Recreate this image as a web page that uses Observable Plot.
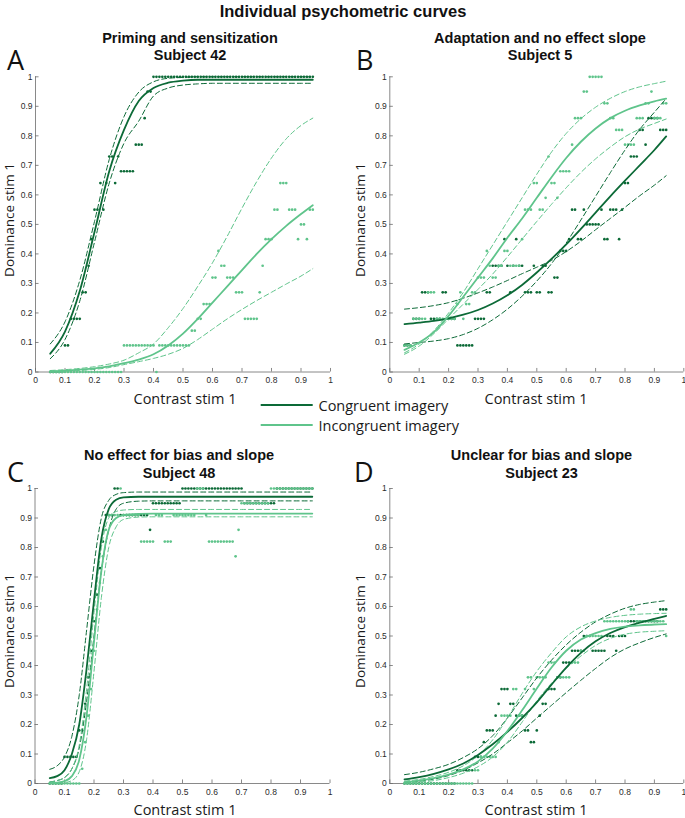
<!DOCTYPE html>
<html><head><meta charset="utf-8">
<script src="https://cdn.jsdelivr.net/npm/d3@7"></script>
<script src="https://cdn.jsdelivr.net/npm/@observablehq/plot@0.6"></script>
<style>
body{margin:0;background:#fff;}
#wrap{position:relative;width:685px;height:818px;overflow:hidden;background:#fff;}
</style></head><body><div id="wrap"></div>
<script>
// ---------- data ----------
const contrast = [0.05,0.06,0.07,0.08,0.09,0.10,0.11,0.12,0.13,0.14,
 0.15,0.16,0.17,0.18,0.19,0.20,0.21,0.22,0.23,0.24,
 0.25,0.26,0.27,0.28,0.29,0.30,0.31,0.32,0.33,0.34,
 0.35,0.36,0.37,0.38,0.39,0.40,0.41,0.42,0.43,0.44,
 0.45,0.46,0.47,0.48,0.49,0.50,0.51,0.52,0.53,0.54,
 0.55,0.56,0.57,0.58,0.59,0.60,0.61,0.62,0.63,0.64,
 0.65,0.66,0.67,0.68,0.69,0.70,0.71,0.72,0.73,0.74,
 0.75,0.76,0.77,0.78,0.79,0.80,0.81,0.82,0.83,0.84,
 0.85,0.86,0.87,0.88,0.89,0.90,0.91,0.92,0.93,0.94];
const fitX  = [0.05,0.1,0.15,0.2,0.25,0.3,0.35,0.4,0.45,0.5,0.55,0.6,0.65,0.7,0.75,0.8,0.85,0.9,0.94];
const fitXC = [0.05,0.075,0.1,0.125,0.15,0.175,0.2,0.225,0.25,0.275,0.3,0.35,0.4,0.5,0.6,0.7,0.8,0.9,0.94];
const xTicks = [0,0.1,0.2,0.3,0.4,0.5,0.6,0.7,0.8,0.9,1];
const yTicks = [0,0.1,0.2,0.3,0.4,0.5,0.6,0.7,0.8,0.9,1];
const seriesNames = ["Congruent imagery","Incongruent imagery"];

// Panel A — Subject 42
const dotsA_cong = [0,0,0,0,0,0.09,0.09,0.18,0.18,0.18,
 0.18,0.27,0.27,0.36,0.45,0.55,0.55,0.64,0.55,0.64,
 0.73,0.73,0.64,0.73,0.68,0.68,0.68,0.68,0.68,0.77,
 0.77,0.77,0.86,0.95,0.95,1,1,1,1,1,
 1,1,1,1,1,1,1,1,1,1, 1,1,1,1,1,1,1,1,1,1,
 1,1,1,1,1,1,1,1,1,1, 1,1,1,1,1,1,1,1,1,1, 1,1,1,1,1,1,1,1,1,1];
const dotsA_inc = [0,0,0,0,0,0,0,0,0,0, 0,0,0,0,0,0,0,0,0,0,
 0,0,0,0,0,0.09,0.09,0.09,0.09,0.09,
 0.09,0.09,0.09,0.09,0.09,0.09,0,0.09,0.09,0.09,
 0.09,0.09,0.09,0.09,0.09,0.09,0.09,0.09,0.14,0.14,
 0.18,0.18,0.23,0.23,0.23,0.32,0.32,0.41,0.36,0.36,
 0.32,0.32,0.32,0.27,0.27,0.27,0.18,0.18,0.18,0.18,
 0.18,0.27,0.36,0.45,0.45,0.45,0.55,0.55,0.64,0.64,
 0.64,0.55,0.55,0.55,0.45,0.5,0.5,0.45,0.55,0.55];
const fitA_cong    = [0.062,0.137,0.274,0.474,0.68,0.82,0.918,0.962,0.98,0.987,0.99,0.99,0.99,0.99,0.99,0.99,0.99,0.99,0.99];
const fitA_cong_hi = [0.095,0.17,0.31,0.51,0.72,0.865,0.948,0.983,0.995,0.998,1,1,1,1,1,1,1,1,1];
const fitA_cong_lo = [0.045,0.11,0.24,0.44,0.64,0.775,0.85,0.935,0.962,0.972,0.976,0.978,0.978,0.978,0.978,0.978,0.978,0.978,0.978];
const fitA_inc     = [0.003,0.005,0.008,0.012,0.019,0.03,0.042,0.06,0.09,0.13,0.18,0.235,0.29,0.345,0.4,0.45,0.495,0.535,0.565];
const fitA_inc_hi  = [0.005,0.008,0.012,0.018,0.027,0.04,0.065,0.095,0.15,0.215,0.29,0.37,0.46,0.555,0.645,0.725,0.79,0.835,0.86];
const fitA_inc_lo  = [0.001,0.003,0.005,0.009,0.015,0.025,0.035,0.046,0.06,0.08,0.11,0.145,0.18,0.212,0.242,0.27,0.298,0.325,0.35];

// Panel B — Subject 5
const dotsB_cong = [0.09,0.09,0.09,0.18,0.18,0.18,0.27,0.27,0.27,0.18,
 0.18,0.18,0.18,0.27,0.27,0.18,0.18,0.18,0.09,0.09,
 0.09,0.09,0.09,0.09,0.18,0.18,0.18,0.18,0.27,0.27,
 0.36,0.36,0.36,0.36,0.45,0.36,0.27,0.36,0.45,0.36,
 0.36,0.27,0.27,0.27,0.36,0.27,0.27,0.36,0.36,0.27,
 0.27,0.32,0.32,0.41,0.41,0.41,0.45,0.55,0.55,0.45,
 0.45,0.55,0.5,0.5,0.5,0.5,0.5,0.55,0.45,0.45,
 0.55,0.55,0.55,0.45,0.55,0.64,0.64,0.73,0.73,0.73,
 0.82,0.82,0.77,0.86,0.86,0.86,0.86,0.82,0.82,0.82];
const dotsB_inc = [0.09,0.09,0.09,0.18,0.18,0.18,0.18,0.18,0.27,0.27,
 0.27,0.18,0.18,0.18,0.18,0.18,0.18,0.18,0.23,0.27,
 0.18,0.23,0.23,0.27,0.27,0.32,0.32,0.32,0.41,0.36,
 0.32,0.32,0.36,0.36,0.41,0.41,0.36,0.36,0.36,0.36,
 0.45,0.55,0.55,0.55,0.64,0.64,0.55,0.55,0.59,0.73,
 0.64,0.64,0.59,0.68,0.68,0.68,0.68,0.77,0.86,0.86,
 0.86,0.95,0.95,1,1,1,1,1,0.91,0.91,
 0.86,0.86,0.82,0.82,0.82,0.77,0.77,0.77,0.77,0.86,
 0.86,0.86,0.91,0.91,0.95,0.86,0.86,0.86,0.91,0.91];
const fitB_cong    = [0.162,0.167,0.173,0.182,0.194,0.21,0.232,0.26,0.295,0.337,0.383,0.432,0.485,0.54,0.595,0.648,0.7,0.752,0.798];
const fitB_cong_hi = [0.213,0.218,0.225,0.235,0.25,0.268,0.288,0.31,0.333,0.355,0.378,0.408,0.443,0.482,0.52,0.558,0.597,0.633,0.665];
const fitB_cong_lo = [0.095,0.1,0.105,0.113,0.127,0.148,0.177,0.213,0.257,0.308,0.367,0.437,0.515,0.595,0.675,0.752,0.822,0.88,0.926];
const fitB_inc     = [0.075,0.1,0.135,0.19,0.255,0.32,0.385,0.455,0.52,0.59,0.66,0.725,0.78,0.825,0.86,0.885,0.903,0.917,0.926];
const fitB_inc_hi  = [0.065,0.095,0.14,0.2,0.27,0.35,0.43,0.51,0.59,0.67,0.745,0.808,0.858,0.897,0.927,0.95,0.966,0.977,0.985];
const fitB_inc_lo  = [0.06,0.088,0.13,0.18,0.23,0.28,0.332,0.39,0.45,0.51,0.568,0.624,0.676,0.722,0.762,0.797,0.823,0.842,0.857];

// Panel C — Subject 48
const dotsC_cong = [0,0,0,0,0,0.09,0.09,0.09,0.09,0.09,
 0.18,0.18,0.27,0.36,0.45,0.55,0.64,0.73,0.82,0.91,
 0.91,0.91,1,1,0.91,0.91,0.91,0.91,0.91,0.91,
 0.91,0.91,0.91,0.91,0.86,0.95,0.95,0.95,0.95,0.95,
 0.95,0.95,0.95,0.95,0.95,1,1,1,1,1,
 1,1,1,1,1,1,1,1,1,1,
 1,1,1,1,1,1,0.95,0.95,0.95,0.95,
 0.95,0.95,0.95,0.95,0.95,0.95,0.95,1,1,1,
 1,1,1,1,1,1,1,1,1,1];
const dotsC_inc = [0,0,0,0,0,0,0,0,0,0,
 0,0.05,0.14,0.23,0.32,0.45,0.59,0.68,0.77,0.86,
 0.91,0.91,0.91,0.91,1,0.91,0.91,0.91,0.91,0.91,
 0.91,0.82,0.82,0.82,0.82,0.82,0.91,0.91,0.91,0.82,
 0.82,0.82,0.91,0.91,0.91,0.91,0.91,0.91,0.91,0.91,
 1,1,1,0.91,0.82,0.82,0.82,0.82,0.82,0.82,
 0.82,0.82,0.82,0.77,0.86,0.95,0.95,0.95,0.95,0.95,
 0.95,0.95,0.95,0.95,0.95,1,1,1,1,1,
 1,1,1,1,1,1,1,1,1,1];
const fitC_cong    = [0.018,0.025,0.045,0.1,0.2,0.39,0.62,0.83,0.93,0.962,0.97,0.972,0.972,0.972,0.972,0.972,0.972,0.972,0.972];
const fitC_cong_hi = [0.048,0.06,0.09,0.16,0.3,0.52,0.74,0.9,0.96,0.98,0.986,0.988,0.988,0.988,0.988,0.988,0.988,0.988,0.988];
const fitC_cong_lo = [0.005,0.01,0.02,0.05,0.12,0.28,0.5,0.72,0.86,0.93,0.95,0.957,0.958,0.958,0.958,0.958,0.958,0.958,0.958];
const fitC_inc     = [0.001,0.003,0.008,0.025,0.08,0.23,0.48,0.72,0.86,0.9,0.91,0.914,0.915,0.915,0.915,0.915,0.915,0.915,0.915];
const fitC_inc_hi  = [0.005,0.01,0.02,0.05,0.13,0.32,0.58,0.8,0.9,0.922,0.927,0.929,0.929,0.929,0.929,0.929,0.929,0.929,0.929];
const fitC_inc_lo  = [0,0.001,0.003,0.01,0.04,0.15,0.38,0.63,0.8,0.87,0.895,0.903,0.904,0.904,0.904,0.904,0.904,0.904,0.904];

// Panel D — Subject 23
const dotsD_cong = [0,0,0,0,0,0,0,0,0,0,
 0,0,0,0,0,0,0,0,0.045,0.045,
 0.045,0.045,0.045,0.045,0.09,0.09,0.09,0.14,0.18,0.18,
 0.18,0.23,0.27,0.32,0.32,0.32,0.27,0.27,0.23,0.23,
 0.23,0.18,0.18,0.14,0.14,0.18,0.23,0.27,0.27,0.32,
 0.32,0.32,0.36,0.36,0.41,0.41,0.41,0.45,0.45,0.45,
 0.45,0.5,0.5,0.5,0.45,0.45,0.45,0.45,0.45,0.5,
 0.5,0.5,0.45,0.5,0.5,0.5,0.55,0.55,0.55,0.55,
 0.55,0.55,0.55,0.55,0.55,0.55,0.55,0.59,0.59,0.59];
const dotsD_inc = [0,0,0,0,0,0,0,0,0,0,
 0,0,0,0,0,0,0,0,0,0,
 0,0,0,0,0.045,0.045,0.09,0.09,0.09,0.09,
 0.09,0.09,0.14,0.23,0.23,0.23,0.23,0.32,0.32,0.23,
 0.23,0.32,0.36,0.36,0.32,0.36,0.36,0.36,0.36,0.41,
 0.41,0.41,0.36,0.36,0.36,0.36,0.36,0.41,0.41,0.41,
 0.45,0.45,0.5,0.5,0.5,0.5,0.5,0.5,0.55,0.55,
 0.55,0.55,0.55,0.55,0.55,0.55,0.55,0.59,0.59,0.55,
 0.55,0.55,0.55,0.55,0.55,0.55,0.55,0.55,0.55,0.5];
const fitD_cong    = [0.014,0.022,0.033,0.048,0.068,0.097,0.133,0.175,0.222,0.275,0.335,0.393,0.443,0.482,0.51,0.53,0.545,0.558,0.568];
const fitD_cong_hi = [0.03,0.038,0.05,0.065,0.088,0.118,0.162,0.222,0.29,0.358,0.418,0.47,0.513,0.548,0.574,0.594,0.607,0.615,0.62];
const fitD_cong_lo = [0.004,0.008,0.015,0.027,0.045,0.07,0.1,0.138,0.178,0.222,0.265,0.308,0.35,0.39,0.427,0.456,0.477,0.495,0.507];
const fitD_inc     = [0.005,0.01,0.018,0.03,0.048,0.075,0.118,0.178,0.248,0.322,0.393,0.45,0.488,0.51,0.524,0.532,0.536,0.539,0.54];
const fitD_inc_hi  = [0.008,0.014,0.024,0.038,0.06,0.095,0.148,0.222,0.305,0.38,0.443,0.497,0.531,0.551,0.563,0.57,0.574,0.576,0.577];
const fitD_inc_lo  = [0.002,0.005,0.01,0.02,0.035,0.057,0.09,0.14,0.208,0.28,0.34,0.39,0.432,0.468,0.492,0.506,0.513,0.516,0.518];

// ---------- drawing ----------
const darkColor = "#0c6a37", lightColor = "#5fc48b", axisColor = "#6b6b6b";
const wrap = document.getElementById("wrap");

const panels = [
  {left:0,   top:60,  w:340, ml:35,   mr:10,  mt:16.3, mb:24.5, fx:fitX,
   dc:dotsA_cong, di:dotsA_inc, fc:[fitA_cong,fitA_cong_hi,fitA_cong_lo], fi:[fitA_inc,fitA_inc_hi,fitA_inc_lo]},
  {left:354, top:60,  w:331, ml:35.3, mr:1.7, mt:16.3, mb:24.5, fx:fitX,
   dc:dotsB_cong, di:dotsB_inc, fc:[fitB_cong,fitB_cong_hi,fitB_cong_lo], fi:[fitB_inc,fitB_inc_hi,fitB_inc_lo]},
  {left:0,   top:472, w:340, ml:34.5, mr:10.5, mt:16, mb:25, fx:fitXC,
   dc:dotsC_cong, di:dotsC_inc, fc:[fitC_cong,fitC_cong_hi,fitC_cong_lo], fi:[fitC_inc,fitC_inc_hi,fitC_inc_lo]},
  {left:354, top:472, w:331, ml:35.3, mr:1.7, mt:16, mb:25, fx:fitX,
   dc:dotsD_cong, di:dotsD_inc, fc:[fitD_cong,fitD_cong_hi,fitD_cong_lo], fi:[fitD_inc,fitD_inc_hi,fitD_inc_lo]}
];

function drawPanel(p) {
  const pts = arr => contrast.map((x, i) => ({x, y: arr[i]}));
  const crv = arr => p.fx.map((x, i) => ({x, y: arr[i]}));
  const line = (arr, color, dashed, w) => Plot.line(crv(arr), {
    x: "x", y: "y", stroke: color, strokeWidth: w,
    strokeDasharray: dashed ? "5,3" : null, curve: "monotone-x"
  });
  const svg = Plot.plot({
    width: p.w, height: 336,
    marginLeft: p.ml, marginRight: p.mr, marginTop: p.mt, marginBottom: p.mb,
    x: {domain: [0, 1]}, y: {domain: [0, 1]},
    style: {fontFamily: "'Liberation Sans', Arial, sans-serif", fontSize: "8.5px", color: "#2b2b2b", background: "transparent", overflow: "visible"},
    marks: [
      Plot.ruleY([0], {x1: 0, x2: 1, stroke: axisColor, strokeWidth: 0.8}),
      Plot.ruleX([0], {y1: 0, y2: 1, stroke: axisColor, strokeWidth: 0.8}),
      Plot.ruleX(xTicks, {y1: 0, y2: 0.012, stroke: axisColor, strokeWidth: 0.8}),
      Plot.ruleY(yTicks, {x1: 0, x2: 0.012, stroke: axisColor, strokeWidth: 0.8}),
      Plot.axisX({ticks: xTicks, tickSize: 0, tickPadding: 5, tickFormat: d => String(d), label: null}),
      Plot.axisY({ticks: yTicks, tickSize: 0, tickPadding: 3, tickFormat: d => String(d), label: null}),
      Plot.dot(pts(p.dc), {x: "x", y: "y", r: 1.35, fill: darkColor}),
      Plot.dot(pts(p.di), {x: "x", y: "y", r: 1.35, fill: lightColor}),
      line(p.fc[1], darkColor, true, 1),
      line(p.fc[2], darkColor, true, 1),
      line(p.fi[1], lightColor, true, 1),
      line(p.fi[2], lightColor, true, 1),
      line(p.fc[0], darkColor, false, 1.8),
      line(p.fi[0], lightColor, false, 1.8)
    ]
  });
  svg.style.position = "absolute";
  svg.style.left = p.left + "px";
  svg.style.top = p.top + "px";
  wrap.appendChild(svg);
}
panels.forEach(drawPanel);

// ---------- text overlay ----------
const ov = d3.select(wrap).append("svg")
  .attr("width", 685).attr("height", 818)
  .style("position", "absolute").style("left", 0).style("top", 0)
  .style("pointer-events", "none");
function txt(x, y, s, o = {}) {
  const t = ov.append("text").attr("x", x).attr("y", y).text(s)
    .attr("text-anchor", o.anchor || "middle")
    .attr("font-family", o.family || "'Liberation Sans', Arial, sans-serif")
    .attr("font-size", o.size || 14)
    .attr("font-weight", o.weight || "normal")
    .attr("fill", o.fill || "#111");
  if (o.rotate) t.attr("x", 0).attr("y", 0).attr("transform", `translate(${x},${y}) rotate(-90)`);
  return t;
}
const sans = "'Open Sans', 'DejaVu Sans', sans-serif";
txt(343, 17, "Individual psychometric curves", {size: 16.5, weight: "bold"});

const titles = [
  [190, 42.5, 60, "Priming and sensitization", "Subject 42"],
  [540, 42.5, 60, "Adaptation and no effect slope", "Subject 5"],
  [179, 460, 477.5, "No effect for bias and slope", "Subject 48"],
  [541.5, 460, 477.5, "Unclear for bias and slope", "Subject 23"]
];
titles.forEach(([x, y1, y2, a, b]) => {
  txt(x, y1, a, {size: 14.5, weight: "bold"});
  txt(x, y2, b, {size: 14.5, weight: "bold"});
});

[["A", 7, 70], ["B", 356, 70], ["C", 7, 482], ["D", 354, 482]].forEach(([l, x, y]) =>
  txt(x, y, l, {anchor: "start", size: 27, family: sans}));

[[185, 403.5], [536, 403.5], [185, 815], [536, 815]].forEach(([x, y]) =>
  txt(x, y, "Contrast stim 1", {size: 14.5, family: sans, fill: "#1a1a1a"}));
[[13.5, 220], [365, 220], [13.5, 631], [365, 631]].forEach(([x, y]) =>
  txt(x, y, "Dominance stim 1", {size: 13.5, family: sans, fill: "#1a1a1a", rotate: true}));

// legend
[[darkColor, 405], [lightColor, 425]].forEach(([c, y], i) => {
  ov.append("line").attr("x1", 260.7).attr("x2", 312.7).attr("y1", y).attr("y2", y)
    .attr("stroke", c).attr("stroke-width", 1.8);
  txt(318.5, y + 5.5, seriesNames[i], {anchor: "start", size: 14.5, family: sans, fill: "#1a1a1a"});
});
</script></body></html>
